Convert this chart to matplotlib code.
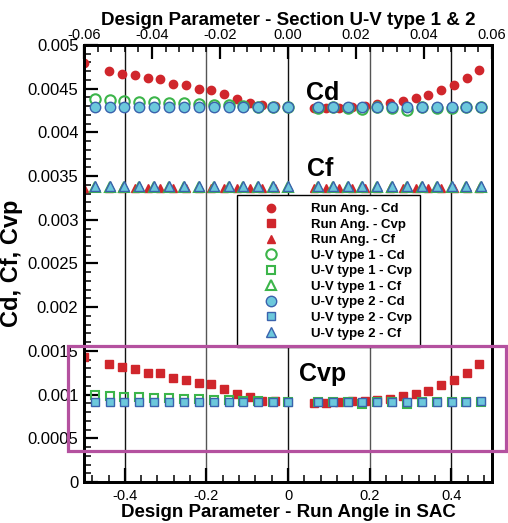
import matplotlib
matplotlib.use("Agg")
import matplotlib.pyplot as plt
from matplotlib.ticker import MultipleLocator, FuncFormatter
from matplotlib.patches import Rectangle

plt.rcParams['font.family'] = ['Liberation Sans', 'DejaVu Sans']
plt.rcParams['axes.unicode_minus'] = False

# Run angle sweep (bottom axis)
run_x = [-0.5, -0.438, -0.406, -0.375, -0.344, -0.313, -0.281, -0.25, -0.219, -0.188,
         -0.156, -0.125, -0.094, -0.063, -0.031,
         0.063, 0.094, 0.125, 0.156, 0.188, 0.219, 0.25, 0.281, 0.313, 0.344,
         0.375, 0.406, 0.438, 0.469]
run_cd = [0.00479, 0.0047, 0.004665, 0.004653, 0.004622, 0.004615, 0.004558, 0.004539,
          0.004501, 0.00449, 0.004436, 0.004385, 0.00434, 0.00431, 0.0043,
          0.004284, 0.004284, 0.004284, 0.004292, 0.004298, 0.00432, 0.00434, 0.004364,
          0.004395, 0.00443, 0.004482, 0.004545, 0.004627, 0.004719]
run_cvp = [0.00143, 0.001347, 0.001312, 0.001297, 0.001252, 0.001252, 0.001194, 0.001171,
           0.001137, 0.001125, 0.001068, 0.001012, 0.00097, 0.00093, 0.000923,
           0.000908, 0.000908, 0.000915, 0.000923, 0.000927, 0.000943, 0.000954, 0.00098,
           0.001011, 0.001041, 0.001106, 0.001163, 0.001252, 0.001354]
run_cf = [0.003366, 0.003366, 0.003366, 0.003366, 0.003366, 0.003366, 0.003366, 0.003366,
          0.003366, 0.003366, 0.003366, 0.003366, 0.003366, 0.003366, 0.003366,
          0.003366, 0.003366, 0.003366, 0.003366, 0.003366, 0.003366, 0.003366, 0.003366,
          0.003366, 0.003366, 0.003366, 0.003366, 0.003366, 0.003366]

# Section U-V sweep (top axis)
uv_x = [-0.0568, -0.0524, -0.0481, -0.0437, -0.0393, -0.035, -0.0306, -0.0262, -0.0218,
        -0.0175, -0.0131, -0.0087, -0.0044, 0.0,
        0.0087, 0.0131, 0.0175, 0.0218, 0.0262, 0.0306, 0.035, 0.0393, 0.0437, 0.0481,
        0.0524, 0.0568]
uv1_cd = [0.00438, 0.00437, 0.00436, 0.00435, 0.004345, 0.00434, 0.004333, 0.004325,
          0.004318, 0.00431, 0.004302, 0.004296, 0.004292, 0.00429,
          0.004282, 0.004285, 0.004282, 0.004265, 0.004285, 0.004283, 0.004258, 0.004285,
          0.004283, 0.004278, 0.004285, 0.00429]
uv1_cvp = [0.00099, 0.000985, 0.000978, 0.00097, 0.000965, 0.00096, 0.000953, 0.000947,
           0.00094, 0.000935, 0.00093, 0.000925, 0.00092, 0.000915,
           0.000912, 0.000915, 0.000912, 0.000898, 0.000915, 0.000913, 0.000893, 0.000915,
           0.000915, 0.00091, 0.000918, 0.00092]
uv1_cf = [0.00338, 0.00338, 0.00338, 0.00338, 0.00338, 0.00338, 0.00338, 0.00338,
          0.00338, 0.00338, 0.00338, 0.00338, 0.00338, 0.00338,
          0.00338, 0.00338, 0.00338, 0.00338, 0.00338, 0.00338, 0.00338, 0.00338,
          0.00338, 0.00338, 0.00338, 0.00338]
uv2_cd = [0.00429, 0.00429, 0.00429, 0.00429, 0.00429, 0.00429, 0.00429, 0.00429,
          0.00429, 0.00429, 0.00429, 0.00429, 0.00429, 0.00429,
          0.00429, 0.00429, 0.00429, 0.00429, 0.00429, 0.00429, 0.00429, 0.00429,
          0.004292, 0.004292, 0.004293, 0.004295]
uv2_cvp = [0.000913, 0.000913, 0.000913, 0.000913, 0.000913, 0.000913, 0.000913, 0.000913,
           0.000913, 0.000913, 0.000913, 0.000913, 0.000913, 0.000913,
           0.000913, 0.000913, 0.000913, 0.000913, 0.000913, 0.000913, 0.000913, 0.000915,
           0.000917, 0.000918, 0.00092, 0.000925]
uv2_cf = [0.003385, 0.003385, 0.003385, 0.003385, 0.003385, 0.003385, 0.003385, 0.003385,
          0.003385, 0.003385, 0.003385, 0.003385, 0.003385, 0.003385,
          0.003385, 0.003385, 0.003385, 0.003385, 0.003385, 0.003385, 0.003385, 0.003385,
          0.003385, 0.003385, 0.003385, 0.003385]

red = '#d0262c'
green = '#3cb54a'
cyan = '#6cc8dc'
navy = '#3a62ad'

fig = plt.figure(figsize=(5.08, 5.23), dpi=100)
ax = fig.add_axes([0.1654, 0.0784, 0.8031, 0.8356])
ax2 = ax.twiny()

ax.set_xlim(-0.5, 0.5)
ax.set_ylim(0, 0.005)
ax2.set_xlim(-0.06, 0.06)

for x in [-0.4, -0.2, 0.0, 0.2, 0.4]:
    c = '#555555' if abs(x) == 0.2 else '#111111'
    ax.axvline(x, color=c, lw=1.0, zorder=0)

h = []
h += ax.plot(run_x, run_cd, 'o', ms=6, color=red, mec=red, label='Run Ang. - Cd')
h += ax.plot(run_x, run_cvp, 's', ms=5.5, color=red, mec=red, label='Run Ang. - Cvp')
h += ax.plot(run_x, run_cf, '^', ms=6, color=red, mec=red, label='Run Ang. - Cf')
h += ax2.plot(uv_x, uv1_cd, 'o', ms=7.5, mfc='none', mec=green, mew=1.5, label='U-V type 1 - Cd')
h += ax2.plot(uv_x, uv1_cvp, 's', ms=6, mfc='none', mec=green, mew=1.5, label='U-V type 1 - Cvp')
h += ax2.plot(uv_x, uv1_cf, '^', ms=7.5, mfc='none', mec=green, mew=1.5, label='U-V type 1 - Cf')
h += ax2.plot(uv_x, uv2_cd, 'o', ms=7.5, mfc=cyan, mec=navy, mew=1.0, label='U-V type 2 - Cd')
h += ax2.plot(uv_x, uv2_cvp, 's', ms=6, mfc=cyan, mec=navy, mew=1.0, label='U-V type 2 - Cvp')
h += ax2.plot(uv_x, uv2_cf, '^', ms=7.5, mfc=cyan, mec=navy, mew=1.0, label='U-V type 2 - Cf')

for a in (ax, ax2):
    for s in a.spines.values():
        s.set_linewidth(2.0)

ax.xaxis.set_major_locator(MultipleLocator(0.2))
ax.xaxis.set_minor_locator(MultipleLocator(0.04))
ax.yaxis.set_major_locator(MultipleLocator(0.0005))
ax.yaxis.set_minor_locator(MultipleLocator(0.0001))
ax.xaxis.set_major_formatter(FuncFormatter(lambda v, p: '%g' % round(v, 6)))
ax.yaxis.set_major_formatter(FuncFormatter(lambda v, p: '%g' % round(v, 7)))
ax.tick_params(axis='both', which='both', direction='in', top=False, right=False)
ax.tick_params(axis='x', which='major', length=10, width=1.6, labelsize=10.5, pad=5)
ax.tick_params(axis='x', which='minor', length=5, width=1.1)
ax.tick_params(axis='y', which='major', length=10, width=1.6, labelsize=12, pad=4)
ax.tick_params(axis='y', which='minor', length=5, width=1.1)

ax2.xaxis.set_major_locator(MultipleLocator(0.02))
ax2.xaxis.set_minor_locator(MultipleLocator(0.004))
ax2.xaxis.set_major_formatter(FuncFormatter(lambda v, p: '%.2f' % (v + 0.0)))
ax2.tick_params(axis='x', which='both', direction='in', bottom=False)
ax2.tick_params(axis='x', which='major', length=10, width=1.6, labelsize=10.5, pad=2)
ax2.tick_params(axis='x', which='minor', length=5, width=1.1)

ax.set_xlabel('Design Parameter - Run Angle in SAC', fontsize=13.5, fontweight='bold', labelpad=1)
ax2.set_xlabel('Design Parameter - Section U-V type 1 & 2', fontsize=13.5, fontweight='bold', labelpad=2)
ax.set_ylabel('Cd, Cf, Cvp', fontsize=17, fontweight='bold', labelpad=3)

ax.text(0.085, 0.00445, 'Cd', fontsize=18, fontweight='bold', ha='center', va='center')
ax.text(0.08, 0.00358, 'Cf', fontsize=18, fontweight='bold', ha='center', va='center')
ax.text(0.085, 0.00123, 'Cvp', fontsize=18, fontweight='bold', ha='center', va='center')

leg = ax2.legend(handles=h, loc='upper left', bbox_to_anchor=(0.4665, 0.627),
                 bbox_transform=fig.transFigure, borderaxespad=0, numpoints=1,
                 prop={'weight': 'bold', 'size': 9.5}, labelspacing=0.25,
                 handlelength=3.9, handletextpad=1.1, borderpad=0.6,
                 fancybox=False, framealpha=1, edgecolor='black')
leg.get_frame().set_linewidth(1.0)

fig.add_artist(Rectangle((0.134, 0.1377), 0.862, 0.2007, transform=fig.transFigure,
                         fill=False, edgecolor='#b4519f', lw=2.3, clip_on=False, zorder=5))

fig.savefig('out.png', dpi=100)
